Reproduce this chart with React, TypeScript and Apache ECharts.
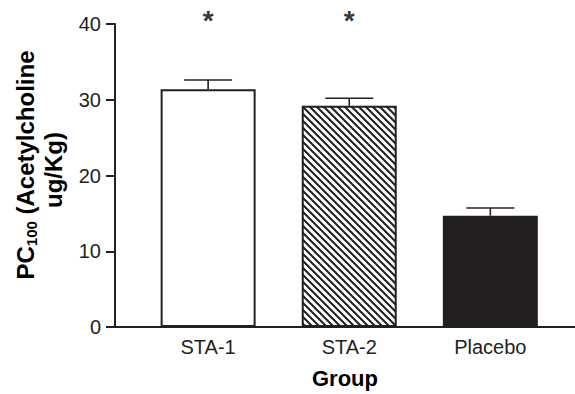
import React, { useEffect, useRef } from "react";
import * as echarts from "echarts";

const categories = ["STA-1", "STA-2", "Placebo"];
const means = [31.4, 29.2, 14.7];
const sems = [1.2, 1.0, 1.0];
const significant = [true, true, false];
const yMin = 0;
const yMax = 40;
const yInterval = 10;
const xAxisName = "Group";
const yNameLine1 = "{b|PC}{s|100}{b| (Acetylcholine}";
const yNameLine2 = "{b|ug/Kg)}";

const INK = "#231f20";
const FONT = "'Liberation Sans', Arial, Helvetica, sans-serif";

function makeHatch() {
  const s = 7;
  const c = document.createElement("canvas");
  c.width = s;
  c.height = s;
  const ctx = c.getContext("2d")!;
  ctx.fillStyle = "#ffffff";
  ctx.fillRect(0, 0, s, s);
  ctx.strokeStyle = INK;
  ctx.lineWidth = 2;
  ctx.beginPath();
  ctx.moveTo(-1, -1);
  ctx.lineTo(s + 1, s + 1);
  ctx.moveTo(-1, s - 1);
  ctx.lineTo(1, s + 1);
  ctx.moveTo(s - 1, -1);
  ctx.lineTo(s + 1, 1);
  ctx.stroke();
  return c;
}

const richStyles = {
  b: {
    fontSize: 24,
    fontWeight: "bold",
    fontFamily: FONT,
    fill: "#000",
    lineHeight: 28,
  },
  s: {
    fontSize: 15,
    fontWeight: "bold",
    fontFamily: FONT,
    fill: "#000",
    lineHeight: 28,
    verticalAlign: "bottom",
    padding: [9, 0, 0, 0],
  },
};

export default function App() {
  const ref = useRef<HTMLDivElement>(null);
  useEffect(() => {
    if (!ref.current) return;
    const chart = echarts.init(ref.current, null, { renderer: "svg" });
    const hatch = makeHatch();
    const fills: any[] = [
      "#ffffff",
      { image: hatch, repeat: "repeat", imageWidth: 7, imageHeight: 7 },
      INK,
    ];
    const barData = means.map((m, i) => ({
      value: [i, m],
      itemStyle: { color: fills[i] },
    }));
    const errData = means.map((m, i) => [i, m, m + sems[i]]);
    const starData: number[][] = [];
    significant.forEach((s, i) => {
      if (s) starData.push([i, yMax]);
    });

    chart.setOption({
      animation: false,
      grid: { left: 115, right: 0, top: 24, bottom: 64 },
      xAxis: {
        type: "value",
        min: -0.66,
        max: 2.6,
        splitLine: { show: false },
        axisTick: { show: false },
        axisLine: { show: true, onZero: false, lineStyle: { color: INK, width: 2 } },
        axisLabel: {
          customValues: [0, 1, 2],
          formatter: (v: number) => categories[Math.round(v)] ?? "",
          fontSize: 20,
          color: INK,
          fontFamily: FONT,
          margin: 10,
        },
        name: xAxisName,
        nameLocation: "middle",
        nameGap: 40,
        nameTextStyle: {
          fontSize: 22,
          fontWeight: "bold",
          color: "#000",
          fontFamily: FONT,
        },
      },
      yAxis: {
        type: "value",
        min: yMin,
        max: yMax,
        interval: yInterval,
        splitLine: { show: false },
        axisLine: { show: true, onZero: false, lineStyle: { color: INK, width: 2 } },
        axisTick: { show: true, length: 9, lineStyle: { color: INK, width: 2 } },
        axisLabel: {
          fontSize: 20,
          color: INK,
          fontFamily: FONT,
          margin: 14,
        },
      },
      graphic: [
        {
          type: "text",
          x: 25,
          y: 165,
          rotation: Math.PI / 2,
          style: {
            text: yNameLine1,
            align: "center",
            verticalAlign: "middle",
            fill: "#000",
            rich: richStyles,
          },
        },
        {
          type: "text",
          x: 53,
          y: 170,
          rotation: Math.PI / 2,
          style: {
            text: yNameLine2,
            align: "center",
            verticalAlign: "middle",
            fill: "#000",
            rich: richStyles,
          },
        },
      ],
      series: [
        {
          type: "bar",
          data: barData,
          barWidth: 95,
          itemStyle: { borderColor: INK, borderWidth: 2 },
          silent: true,
        },
        {
          type: "custom",
          data: errData,
          silent: true,
          encode: { x: 0, y: [1, 2] },
          renderItem: (params: any, api: any) => {
            const x = api.value(0);
            const top = api.coord([x, api.value(1)]);
            const hi = api.coord([x, api.value(2)]);
            const half = 24;
            const style = { stroke: INK, lineWidth: 1.6, fill: null };
            return {
              type: "group",
              children: [
                {
                  type: "line",
                  shape: { x1: top[0], y1: top[1], x2: hi[0], y2: hi[1] },
                  style,
                },
                {
                  type: "line",
                  shape: { x1: hi[0] - half, y1: hi[1], x2: hi[0] + half, y2: hi[1] },
                  style,
                },
              ],
            };
          },
        },
        {
          type: "scatter",
          data: starData,
          silent: true,
          symbolSize: 1,
          itemStyle: { color: "rgba(0,0,0,0)" },
          label: {
            show: true,
            position: "top",
            distance: -11,
            formatter: "*",
            fontSize: 28,
            fontWeight: "bold",
            fontFamily: FONT,
            color: "#000",
          },
        },
      ],
    });
    return () => chart.dispose();
  }, []);
  return (
    <div
      ref={ref}
      style={{ position: "fixed", left: 0, top: 0, width: 575, height: 394, background: "#fff" }}
    />
  );
}
